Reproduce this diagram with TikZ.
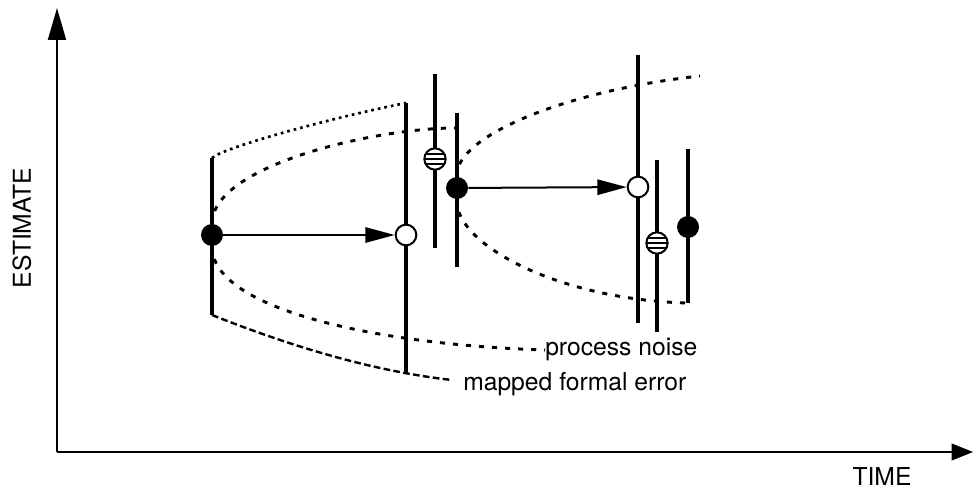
\documentclass[tikz,border=0pt]{standalone}
\usepackage{fontspec}
\setmainfont{TeX Gyre Heros}
\usetikzlibrary{arrows.meta,backgrounds}
\tikzset{
  bar/.style={line width=3pt},
  dotfull/.style={circle,fill=black,inner sep=0pt,minimum size=16.5pt},
  dotopen/.style={circle,draw=black,fill=white,line width=1.5pt,inner sep=0pt,minimum size=15.5pt},
  dothatch/.style={circle,draw=black,fill=white,line width=1.5pt,inner sep=0pt,minimum size=16pt,
    path picture={\foreach \dy in {-3.6,0,3.6}{\draw[black,line width=1.7pt]
      ([yshift=\dy pt]path picture bounding box.west) -- ([yshift=\dy pt]path picture bounding box.east);}}},
  conn/.style={-{Triangle[length=22pt,width=11.5pt]},line width=1.5pt},
  axis/.style={line width=1.5pt},
  noise/.style={line width=2.2pt,dash pattern=on 3.8pt off 6pt},
  mapup/.style={line width=2pt,dash pattern=on 2pt off 3pt},
  mapdn/.style={line width=1.8pt,dash pattern=on 5pt off 2.5pt},
  lbl/.style={font=\fontsize{18.5}{22}\selectfont,inner sep=0pt},
}
\begin{document}
\begin{tikzpicture}[x=0.75pt,y=-0.75pt]
  \useasboundingbox (0,0) rectangle (974,491);
  % axes
  \coordinate (o) at (57,452);
  \coordinate (ytip) at (57,8);
  \coordinate (xtip) at (973,452);
  \draw[axis,-{Triangle[length=24pt,width=13.5pt]}] (o) -- (ytip);
  \draw[axis,-{Triangle[length=16pt,width=12.5pt]}] (o) -- (xtip);
  \node[lbl,rotate=90] (est) at (22,228) {ESTIMATE};
  \node[lbl] (time) at (882,477) {TIME};
  % error bars with their estimates
  \foreach \n/\x/\t/\m/\b/\s in {a/212/158/235/315/dotfull, b/406/103/235/372/dotopen,
      c/435/74/159/248/dothatch, d/457/113/188/267/dotfull, e/638/55/187/323/dotopen,
      f/657/160/243/332/dothatch, g/688/149/227/303/dotfull}{
    \coordinate (\n-top) at (\x,\t);
    \coordinate (\n-bot) at (\x,\b);
    \draw[bar] (\n-top) -- (\n-bot);
    \node[\s] (\n) at (\x,\m) {};
  }
  % labels
  \node[lbl,anchor=base west] (pn) at (545,356) {process noise};
  \node[lbl,anchor=base west] (mf) at (463,390) {mapped formal error};
  \coordinate (mfend) at (452,380);
  \coordinate (n1up) at (455,128);
  \coordinate (n2up) at (700,76);
  % envelopes
  \begin{scope}[on background layer]
    \draw[mapup] (a-top) .. controls (222,148) and (330,118) .. (b-top);
    \draw[mapdn] (a-bot) .. controls (300,350) and (380,372) .. (mfend);
    \draw[noise] (a) .. controls (212,165) and (377,128) .. (n1up);
    \draw[noise] (a) .. controls (212,310) and (380,345) .. (pn.west);
    \draw[noise] (d) .. controls (455,135) and (570,90) .. (n2up);
    \draw[noise] (d) .. controls (455,245) and (560,300) .. (g-bot);
  \end{scope}
  % propagation
  \draw[conn] (a) -- (b);
  \draw[conn] (d) -- (e);
\end{tikzpicture}
\end{document}
